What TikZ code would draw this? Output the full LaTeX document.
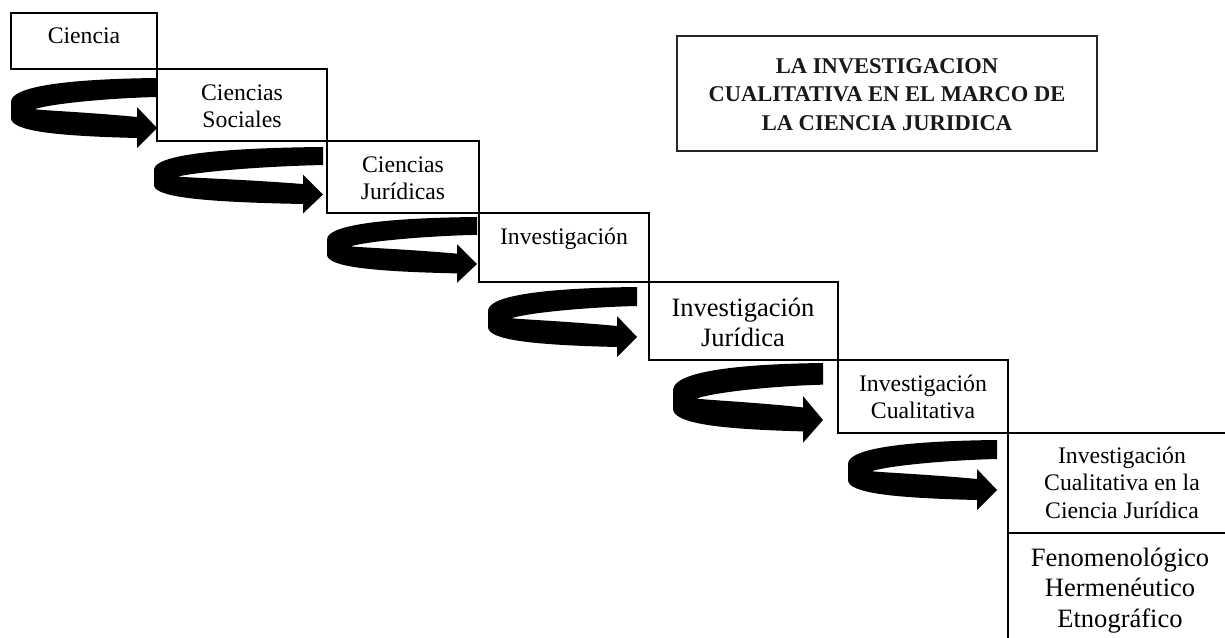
\documentclass[tikz,border=0pt]{standalone}
\usepackage{fontspec}
\setmainfont{Liberation Serif}
\tikzset{
  boxst/.style={draw=black, line width=1.5pt, inner sep=0pt, outer sep=0pt, anchor=north west},
  titlest/.style={draw=black!85, line width=1.6pt, inner sep=0pt, outer sep=0pt, anchor=north west},
  txt/.style={anchor=north, inner sep=0pt, align=center, font=\fontsize{17.8}{20.6}\selectfont},
  bigtxt/.style={anchor=north, inner sep=0pt, align=center, font=\fontsize{19.9}{22.9}\selectfont},
  titletxt/.style={anchor=north, inner sep=0pt, align=center, text=black!90, font=\fontsize{16.9}{21.4}\selectfont\bfseries},
  uarrowst/.style={fill=black}
}
\newcommand\mybox[6][boxst]{%
  \node[#1, minimum width={(#5-#3)*0.75pt}, minimum height={(#6-#4)*0.75pt}] (#2) at (#3,#4) {};}
\newcommand\uturnarrow[4]{%
  \fill[uarrowst] (#2,#3) .. controls ({#2-0.6*(#2-#1)},{#3+1*#4}) and (#1,{#3+8*#4}) .. (#1,{#3+24*#4})
   -- (#1,{#3+40*#4}) .. controls (#1,{#3+53*#4}) and ({#1+0.3*(#2-#1)},{#3+58*#4}) .. ({#2-20},{#3+60*#4})
   -- ({#2-20},{#3+70*#4}) -- (#2,{#3+50*#4}) -- ({#2-20},{#3+29*#4}) -- ({#2-20},{#3+39*#4})
   .. controls ({#2-20-0.35*(#2-#1)},{#3+34*#4}) and ({#1+0.15*(#2-#1)},{#3+32*#4}) .. ({#1+24},{#3+31*#4})
   .. controls ({#1+0.3*(#2-#1)},{#3+25*#4}) and ({#2-0.3*(#2-#1)},{#3+20*#4}) .. (#2,{#3+19*#4}) -- cycle;}
\begin{document}
\begin{tikzpicture}[x=0.75pt,y=-0.75pt]
\useasboundingbox (0,0) rectangle (1225,638);
\clip (0,0) rectangle (1225,638);
\fill[white] (0,0) rectangle (1225,638);
% arrows
\uturnarrow{11}{157}{78}{1}
\uturnarrow{154}{323}{147}{0.95}
\uturnarrow{327}{477}{217}{0.94}
\uturnarrow{488}{637}{287}{1}
\uturnarrow{673}{823}{363}{1.14}
\uturnarrow{848}{997}{440}{1}
% boxes
\mybox{b1}{11}{13}{157}{69}
\mybox{b2}{157}{69}{327}{141}
\mybox{b3}{327}{141}{479}{213}
\mybox{b4}{479}{213}{649}{282}
\mybox{b5}{649}{282}{838}{360}
\mybox{b6}{838}{360}{1008}{433}
\mybox{b7}{1008}{433}{1240}{533}
\mybox{b8}{1008}{533}{1240}{660}
\mybox[titlest]{title}{677}{36}{1097}{151}
% texts
\node[txt] (t1) at (84,23.75) {\strut Ciencia};
\node[txt] (t2) at (242,80.75) {\strut Ciencias\\Sociales};
\node[txt] (t3) at (403,152.75) {\strut Ciencias\\Jurídicas};
\node[txt] (t4) at (564,224.75) {\strut Investigación};
\node[bigtxt] (t5) at (743,294.65) {\strut Investigación\\Jurídica};
\node[txt] (t6) at (923,371.75) {\strut Investigación\\Cualitativa};
\node[txt] (t7) at (1122,443.75) {\strut Investigación\\Cualitativa en la\\Ciencia Jurídica};
\node[bigtxt] (t8) at (1120,544.65) {\strut Fenomenológico\\Hermenéutico\\Etnográfico};
\node[titletxt] (tt) at (887,53.05) {\strut LA INVESTIGACION\\CUALITATIVA EN EL MARCO DE\\LA CIENCIA JURIDICA};
\end{tikzpicture}
\end{document}
